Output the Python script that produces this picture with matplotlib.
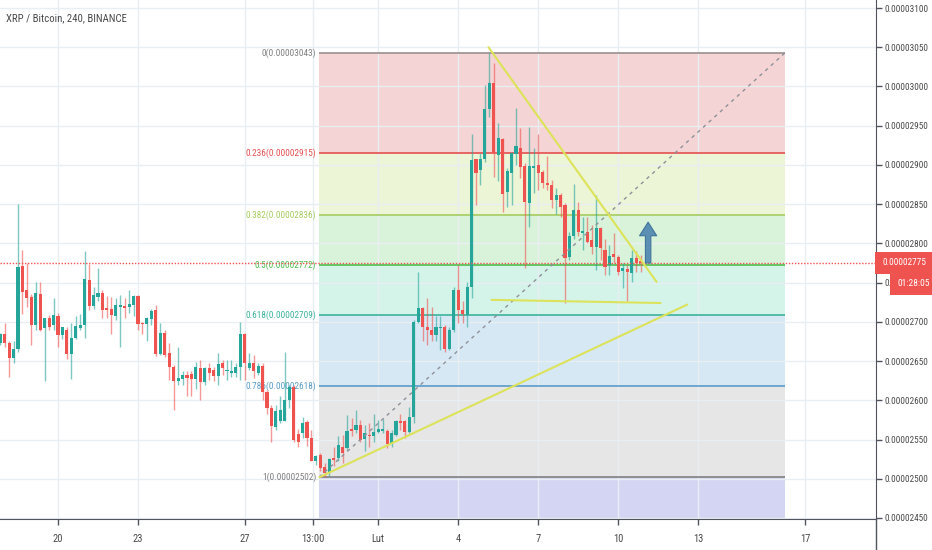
import numpy as np
import matplotlib
matplotlib.use('Agg')
from matplotlib import pyplot as plt
from matplotlib import font_manager
from matplotlib.patches import FancyArrowPatch
from matplotlib.lines import Line2D
from matplotlib.transforms import blended_transform_factory
from matplotlib.ticker import FuncFormatter

# XRP/BTC 4h candles, prices in satoshi (1e-8 BTC)
# bar 0 = 20 Jan 00:00, first visible bar is FIRST_BAR
FIRST_BAR = -13
opens = [2673, 2685, 2673, 2654, 2666, 2771, 2741, 2732, 2696, 2736, 2692, 2705, 2696,
         2707, 2683, 2690, 2659, 2680, 2692, 2696, 2753, 2720, 2732, 2737, 2717, 2716,
         2707, 2719, 2720, 2719, 2721, 2733, 2699, 2697, 2703, 2715, 2659, 2686, 2660,
         2643, 2625, 2627, 2632, 2634, 2627, 2641, 2623, 2641, 2639, 2631, 2647, 2637,
         2635, 2635, 2642, 2685, 2641, 2647, 2635, 2644, 2611, 2590, 2566, 2573, 2574,
         2601, 2617, 2557, 2558, 2572, 2552, 2522, 2530, 2515, 2507, 2526, 2526, 2541,
         2539, 2564, 2562, 2568, 2551, 2556, 2554, 2560, 2561, 2561, 2544, 2556, 2574,
         2573, 2560, 2579, 2700, 2717, 2694, 2690, 2683, 2692, 2694, 2666, 2690, 2740,
         2715, 2709, 2745, 2907, 2893, 2907, 2971, 3005, 2913, 2933, 2865, 2890, 2914,
         2921, 2898, 2852, 2896, 2900, 2891, 2877, 2874, 2855, 2862, 2849, 2782, 2809,
         2843, 2813, 2815, 2804, 2795, 2820, 2792, 2772, 2787, 2782, 2765, 2767, 2762,
         2781, 2778]
highs = [2686, 2698, 2675, 2675, 2850, 2792, 2775, 2736, 2751, 2751, 2705, 2709, 2730,
         2711, 2694, 2694, 2698, 2707, 2710, 2790, 2774, 2745, 2769, 2741, 2733, 2732,
         2730, 2734, 2730, 2741, 2734, 2734, 2700, 2706, 2716, 2721, 2698, 2690, 2673,
         2645, 2668, 2637, 2637, 2637, 2649, 2651, 2643, 2647, 2643, 2660, 2651, 2651,
         2651, 2647, 2700, 2686, 2660, 2658, 2647, 2647, 2613, 2594, 2594, 2605, 2662,
         2620, 2620, 2564, 2579, 2575, 2562, 2530, 2533, 2520, 2526, 2541, 2554, 2556,
         2581, 2577, 2588, 2575, 2568, 2571, 2583, 2575, 2576, 2564, 2562, 2575, 2582,
         2575, 2592, 2702, 2764, 2719, 2730, 2719, 2707, 2707, 2696, 2694, 2745, 2772,
         2726, 2751, 2940, 2908, 2915, 3002, 3043, 3030, 2953, 2934, 2896, 2917, 2972,
         2947, 2902, 2948, 2921, 2940, 2893, 2911, 2881, 2870, 2864, 2851, 2815, 2876,
         2853, 2834, 2833, 2823, 2862, 2821, 2806, 2798, 2813, 2785, 2775, 2772, 2792,
         2790, 2785]
lows = [2671, 2668, 2630, 2647, 2662, 2710, 2719, 2671, 2690, 2688, 2625, 2690, 2690,
        2668, 2678, 2652, 2627, 2678, 2690, 2679, 2715, 2716, 2727, 2705, 2705, 2685,
        2702, 2668, 2705, 2711, 2707, 2690, 2685, 2675, 2696, 2656, 2658, 2655, 2626,
        2588, 2620, 2620, 2605, 2605, 2615, 2601, 2620, 2626, 2624, 2620, 2632, 2626,
        2630, 2630, 2626, 2626, 2639, 2628, 2632, 2601, 2583, 2547, 2562, 2571, 2573,
        2590, 2547, 2541, 2552, 2542, 2522, 2518, 2510, 2502, 2503, 2516, 2522, 2520,
        2537, 2554, 2558, 2547, 2535, 2541, 2547, 2558, 2558, 2539, 2541, 2554, 2562,
        2552, 2558, 2571, 2698, 2675, 2670, 2675, 2675, 2664, 2662, 2664, 2687, 2698,
        2698, 2694, 2730, 2849, 2874, 2904, 2961, 2885, 2879, 2840, 2847, 2849, 2900,
        2883, 2768, 2821, 2864, 2868, 2870, 2868, 2845, 2838, 2834, 2724, 2779, 2806,
        2809, 2792, 2800, 2786, 2766, 2779, 2760, 2760, 2775, 2760, 2743, 2727, 2751,
        2764, 2764]
closes = [2685, 2673, 2654, 2666, 2770, 2738, 2730, 2696, 2737, 2690, 2705, 2693, 2709,
          2683, 2693, 2659, 2680, 2695, 2696, 2755, 2720, 2734, 2737, 2715, 2715, 2709,
          2721, 2721, 2717, 2723, 2733, 2697, 2697, 2705, 2714, 2659, 2686, 2658, 2643,
          2625, 2629, 2632, 2629, 2627, 2642, 2623, 2641, 2635, 2631, 2646, 2641, 2639,
          2637, 2643, 2685, 2647, 2647, 2637, 2644, 2610, 2590, 2567, 2586, 2587, 2601,
          2617, 2549, 2547, 2571, 2552, 2522, 2529, 2514, 2507, 2525, 2524, 2543, 2533,
          2561, 2561, 2568, 2550, 2558, 2554, 2560, 2563, 2563, 2544, 2558, 2573, 2571,
          2560, 2579, 2700, 2717, 2694, 2690, 2683, 2694, 2694, 2666, 2690, 2741, 2715,
          2710, 2745, 2906, 2890, 2907, 2971, 3005, 2915, 2934, 2863, 2892, 2915, 2924,
          2897, 2853, 2898, 2899, 2890, 2877, 2874, 2855, 2862, 2846, 2781, 2809, 2843,
          2814, 2816, 2802, 2795, 2820, 2794, 2770, 2784, 2783, 2763, 2768, 2763, 2781,
          2775, 2775]

# x axis: day offsets from 20 Jan and their labels
tick_days = [0, 3, 7, 9.54, 12, 15, 18, 21, 24, 28]
tick_labels = ['20', '23', '27', '13:00', 'Lut', '4', '7', '10', '13', '17']
price_ticks = np.arange(2450, 3101, 50)

# fibonacci retracement drawn on the chart
fib_ratios = [0, 0.236, 0.382, 0.5, 0.618, 0.786, 1]
fib_prices = [3043, 2915, 2836, 2772, 2709, 2618, 2502]
FIB_LEFT, FIB_RIGHT = 58.7, 163.5

# hand drawn lines: (bar, price) pairs
resistance = [(96.8, 3050), (134.6, 2751)]
flat_support = [(97.5, 2728), (135.5, 2724)]
rising_support = [(58.8, 2502), (141.5, 2722)]
arrow_from, arrow_to = (132.7, 2775), (132.7, 2827)

UP, DOWN = '#26a69a', '#ef5350'
TXT = '#4a4a4a'
AXC = '#50535e'
fib_line_colors = ['#9a8f8f', '#e5504f', '#a6cc60', '#4cc04f', '#3db39d', '#5b9cc8', '#808080']
fib_band_colors = ['#f4d4d4', '#edf5d7', '#d9f3da', '#d4f4ea', '#d6e8f4', '#e6e6e6', '#d4d5f3']

# pick the narrowest font we have
names = {f.name for f in font_manager.fontManager.ttflist}
FONT = 'DejaVu Sans'
for cand in ['Roboto Condensed', 'Liberation Sans Narrow', 'DejaVu Sans Condensed', 'Roboto']:
	if cand in names:
		FONT = cand
		break
plt.rcParams['font.family'] = [FONT, 'DejaVu Sans']

fig = plt.figure(figsize=(9.32, 5.5), dpi=100)
renderer = fig.canvas.get_renderer()


def fit_size(text, width_px):
	# font size that makes `text` about width_px wide
	t = fig.text(0, 0, text, fontsize=10)
	w = t.get_window_extent(renderer=renderer).width
	t.remove()
	return 10 * width_px / w


FS = fit_size('0.00003050', 43)
FIB_FS = fit_size('0.236(0.00002915)', 69)
X_FS = fit_size('13:00', 23)
TITLE_FS = fit_size('XRP / Bitcoin, 240, BINANCE', 120)
CLOCK_FS = fit_size('01:28:05', 32)

ax = fig.add_axes([0, 31 / 550, 876 / 932, 519 / 550])
ax.set_xlim(-13.04, 183.94)
ax.set_ylim(2448.7, 3110.2)

# grid + axes
ax.set_axisbelow(True)
ax.grid(True, color='#e9eef3', lw=1)
ax.yaxis.tick_right()
ax.set_yticks(price_ticks)
ax.yaxis.set_major_formatter(FuncFormatter(lambda v, pos: f'{v * 1e-8:.8f}'))
ax.set_xticks([d * 6 for d in tick_days])
ax.set_xticklabels(tick_labels)
ax.tick_params(axis='y', length=4, width=1, color=AXC, pad=2, labelsize=FS, labelcolor=TXT)
ax.tick_params(axis='x', length=4, width=1, color=AXC, pad=7, labelsize=X_FS, labelcolor=TXT)
for s in ['top', 'left']:
	ax.spines[s].set_visible(False)
for s in ['right', 'bottom']:
	ax.spines[s].set_color(AXC)
fig.add_artist(Line2D([876 / 932] * 2, [0, 31 / 550], transform=fig.transFigure, color=AXC, lw=1))

# fibonacci bands, levels and labels
band_edges = fib_prices + [fib_prices[-1] - 0.618 * (fib_prices[0] - fib_prices[-1])]
for k in range(len(fib_band_colors)):
	ax.fill_between([FIB_LEFT, FIB_RIGHT], band_edges[k], band_edges[k + 1],
					color=fib_band_colors[k], lw=0, zorder=0.2)
ax.hlines(fib_prices, FIB_LEFT, FIB_RIGHT, colors=fib_line_colors, lw=1.2, zorder=1)
for r, p, col in zip(fib_ratios, fib_prices, fib_line_colors):
	lab_col = '#808080' if r in (0, 1) else col
	ax.annotate(f'{r:g}({p * 1e-8:.8f})', xy=(FIB_LEFT, p), xytext=(-2, 0),
				textcoords='offset points', ha='right', va='center',
				color=lab_col, fontsize=FIB_FS, zorder=1.5)
ax.plot([FIB_LEFT, FIB_RIGHT], [fib_prices[-1], fib_prices[0]],
		ls=(0, (2.5, 3)), color='#8f9199', lw=1, zorder=4)

# candles
o, h, l, c = map(np.array, (opens, highs, lows, closes))
idx = np.arange(len(c)) + FIRST_BAR
cols = np.where(c >= o, UP, DOWN)
ax.vlines(idx, l, h, colors=cols, lw=1, alpha=0.6, zorder=2)
ax.bar(idx, np.maximum(np.abs(c - o), 0.9), bottom=np.minimum(o, c), width=0.7,
	   color=cols, lw=0, zorder=3)

# last price line
last = closes[-1]
ax.axhline(last, color=DOWN, lw=1, ls=(0, (1, 1.2)), zorder=3.5)

# trend lines
for seg in (resistance, flat_support, rising_support):
	xs, ys = zip(*seg)
	ax.plot(xs, ys, color='#dce35a', lw=1.5, zorder=4, solid_capstyle='round')

ax.add_patch(FancyArrowPatch(arrow_from, arrow_to,
							 arrowstyle='simple,head_length=0.75,head_width=0.95,tail_width=0.3',
							 mutation_scale=13, fc='#5b8fb3', ec='#40759a', lw=0.8,
							 shrinkA=0, shrinkB=0, zorder=5))

# price / countdown boxes on the price scale
bt = blended_transform_factory(ax.transAxes, ax.transData)
ax.annotate(f'{last * 1e-8:.8f}', xy=(1, last), xycoords=bt, xytext=(4.6, 0),
			textcoords='offset points', ha='left', va='center', color='white', fontsize=FS,
			bbox=dict(boxstyle='square,pad=0.75', fc=DOWN, ec='none'),
			annotation_clip=False, zorder=10)
ax.annotate('01:28:05', xy=(1, last), xycoords=bt, xytext=(15.2, -14.8),
			textcoords='offset points', ha='left', va='center', color='white', fontsize=CLOCK_FS,
			bbox=dict(boxstyle='square,pad=0.75', fc=DOWN, ec='none'),
			annotation_clip=False, zorder=10)

fig.text(6 / 932, 1 - 18 / 550, 'XRP / Bitcoin, 240, BINANCE', ha='left', va='center',
		 fontsize=TITLE_FS, color=TXT)

fig.savefig('out.png', dpi=100)
